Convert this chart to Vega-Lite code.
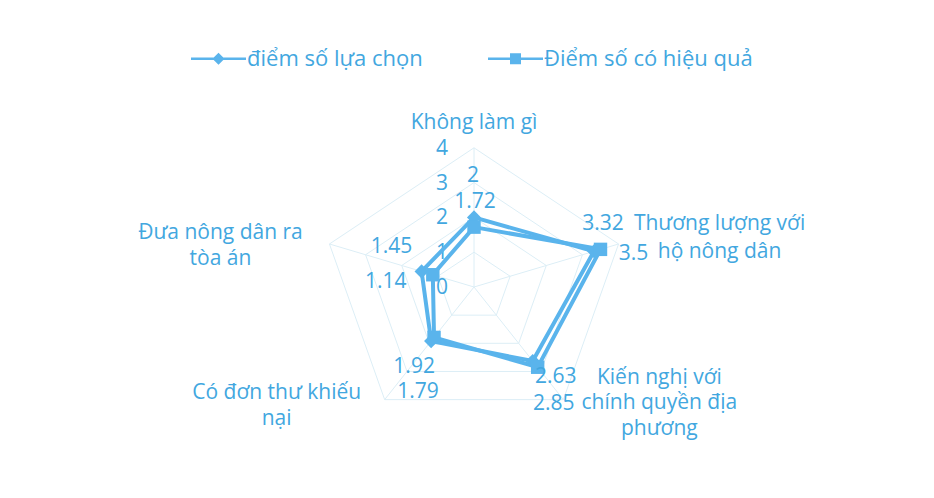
{
  "$schema": "https://vega.github.io/schema/vega-lite/v6.json",
  "width": 934,
  "height": 498,
  "padding": 0,
  "autosize": "none",
  "background": "white",
  "config": {
    "view": {"stroke": null},
    "font": "Open Sans",
    "text": {"font": "Open Sans", "fontSize": 21, "color": "#42A7DF", "baseline": "middle"}
  },
  "datasets": {
    "scores": [
      {"cat": "Không làm gì", "idx": 0, "series": "điểm số lựa chọn", "value": 2},
      {"cat": "Thương lượng với hộ nông dân", "idx": 1, "series": "điểm số lựa chọn", "value": 3.32},
      {"cat": "Kiến nghị với chính quyền địa phương", "idx": 2, "series": "điểm số lựa chọn", "value": 2.63},
      {"cat": "Có đơn thư khiếu nại", "idx": 3, "series": "điểm số lựa chọn", "value": 1.92},
      {"cat": "Đưa nông dân ra tòa án", "idx": 4, "series": "điểm số lựa chọn", "value": 1.45},
      {"cat": "Không làm gì", "idx": 0, "series": "Điểm số có hiệu quả", "value": 1.72},
      {"cat": "Thương lượng với hộ nông dân", "idx": 1, "series": "Điểm số có hiệu quả", "value": 3.5},
      {"cat": "Kiến nghị với chính quyền địa phương", "idx": 2, "series": "Điểm số có hiệu quả", "value": 2.85},
      {"cat": "Có đơn thư khiếu nại", "idx": 3, "series": "Điểm số có hiệu quả", "value": 1.79},
      {"cat": "Đưa nông dân ra tòa án", "idx": 4, "series": "Điểm số có hiệu quả", "value": 1.14}
    ],
    "cats": [
      {"idx": 0, "label": "Không làm gì"},
      {"idx": 1, "label": "Thương lượng với\nhộ nông dân"},
      {"idx": 2, "label": "Kiến nghị với\nchính quyền địa\nphương"},
      {"idx": 3, "label": "Có đơn thư khiếu\nnại"},
      {"idx": 4, "label": "Đưa nông dân ra\ntòa án"}
    ],
    "grid": [
      {"level": 1, "idx": 0}, {"level": 1, "idx": 1}, {"level": 1, "idx": 2}, {"level": 1, "idx": 3}, {"level": 1, "idx": 4},
      {"level": 2, "idx": 0}, {"level": 2, "idx": 1}, {"level": 2, "idx": 2}, {"level": 2, "idx": 3}, {"level": 2, "idx": 4},
      {"level": 3, "idx": 0}, {"level": 3, "idx": 1}, {"level": 3, "idx": 2}, {"level": 3, "idx": 3}, {"level": 3, "idx": 4},
      {"level": 4, "idx": 0}, {"level": 4, "idx": 1}, {"level": 4, "idx": 2}, {"level": 4, "idx": 3}, {"level": 4, "idx": 4}
    ],
    "ticks": [
      {"level": 0, "label": "0"}, {"level": 1, "label": "1"}, {"level": 2, "label": "2"}, {"level": 3, "label": "3"}, {"level": 4, "label": "4"}
    ]
  },
  "layer": [
    {
      "data": {"name": "grid"},
      "transform": [
        {"calculate": "datum.level*sin(datum.idx*2*PI/5)", "as": "px"},
        {"calculate": "datum.level*cos(datum.idx*2*PI/5)", "as": "py"}
      ],
      "mark": {"type": "line", "interpolate": "linear-closed", "stroke": "#DCEEF6", "strokeWidth": 1},
      "encoding": {
        "x": {"field": "px", "type": "quantitative", "scale": {"domain": [-12.474, 12.105], "nice": false, "zero": false}, "axis": null},
        "y": {"field": "py", "type": "quantitative", "scale": {"domain": [-6.063, 8.247], "nice": false, "zero": false}, "axis": null},
        "detail": {"field": "level", "type": "nominal"},
        "order": {"field": "idx", "type": "quantitative"}
      }
    },
    {
      "data": {"name": "cats"},
      "transform": [
        {"calculate": "4*sin(datum.idx*2*PI/5)", "as": "px"},
        {"calculate": "4*cos(datum.idx*2*PI/5)", "as": "py"},
        {"calculate": "0", "as": "ox"},
        {"calculate": "0", "as": "oy"}
      ],
      "mark": {"type": "rule", "stroke": "#DCEEF6", "strokeWidth": 1},
      "encoding": {
        "x": {"field": "ox", "type": "quantitative", "scale": {"domain": [-12.474, 12.105], "nice": false, "zero": false}, "axis": null},
        "y": {"field": "oy", "type": "quantitative", "scale": {"domain": [-6.063, 8.247], "nice": false, "zero": false}, "axis": null},
        "x2": {"field": "px"},
        "y2": {"field": "py"}
      }
    },
    {
      "data": {"name": "ticks"},
      "transform": [
        {"calculate": "0", "as": "ox"}
      ],
      "mark": {"type": "text", "align": "right", "dx": -26, "dy": 1},
      "encoding": {
        "x": {"field": "ox", "type": "quantitative", "scale": {"domain": [-12.474, 12.105], "nice": false, "zero": false}, "axis": null},
        "y": {"field": "level", "type": "quantitative", "scale": {"domain": [-6.063, 8.247], "nice": false, "zero": false}, "axis": null},
        "text": {"field": "label", "type": "nominal"}
      }
    },
    {
      "data": {"name": "scores"},
      "transform": [
        {"calculate": "datum.value*sin(datum.idx*2*PI/5)", "as": "px"},
        {"calculate": "datum.value*cos(datum.idx*2*PI/5)", "as": "py"}
      ],
      "mark": {"type": "line", "interpolate": "linear-closed", "stroke": "#5AB4EC", "strokeWidth": 4},
      "encoding": {
        "x": {"field": "px", "type": "quantitative", "scale": {"domain": [-12.474, 12.105], "nice": false, "zero": false}, "axis": null},
        "y": {"field": "py", "type": "quantitative", "scale": {"domain": [-6.063, 8.247], "nice": false, "zero": false}, "axis": null},
        "detail": {"field": "series", "type": "nominal"},
        "order": {"field": "idx", "type": "quantitative"}
      }
    },
    {
      "data": {"name": "scores"},
      "transform": [
        {"filter": "datum.series == 'điểm số lựa chọn'"},
        {"calculate": "datum.value*sin(datum.idx*2*PI/5)", "as": "px"},
        {"calculate": "datum.value*cos(datum.idx*2*PI/5)", "as": "py"}
      ],
      "mark": {"type": "point", "shape": "diamond", "filled": true, "color": "#5AB4EC", "opacity": 1, "size": 200},
      "encoding": {
        "x": {"field": "px", "type": "quantitative", "scale": {"domain": [-12.474, 12.105], "nice": false, "zero": false}, "axis": null},
        "y": {"field": "py", "type": "quantitative", "scale": {"domain": [-6.063, 8.247], "nice": false, "zero": false}, "axis": null}
      }
    },
    {
      "data": {"name": "scores"},
      "transform": [
        {"filter": "datum.series == 'Điểm số có hiệu quả'"},
        {"calculate": "datum.value*sin(datum.idx*2*PI/5)", "as": "px"},
        {"calculate": "datum.value*cos(datum.idx*2*PI/5)", "as": "py"}
      ],
      "mark": {"type": "point", "shape": "square", "filled": true, "color": "#5AB4EC", "opacity": 1, "size": 180},
      "encoding": {
        "x": {"field": "px", "type": "quantitative", "scale": {"domain": [-12.474, 12.105], "nice": false, "zero": false}, "axis": null},
        "y": {"field": "py", "type": "quantitative", "scale": {"domain": [-6.063, 8.247], "nice": false, "zero": false}, "axis": null}
      }
    },
    {
      "data": {"name": "cats"},
      "transform": [
        {"filter": "datum.idx == 0"},
        {"calculate": "4*sin(datum.idx*2*PI/5)", "as": "px"},
        {"calculate": "4*cos(datum.idx*2*PI/5)", "as": "py"}
      ],
      "mark": {"type": "text", "align": "center", "dy": -25, "lineBreak": "\n"},
      "encoding": {
        "x": {"field": "px", "type": "quantitative", "scale": {"domain": [-12.474, 12.105], "nice": false, "zero": false}, "axis": null},
        "y": {"field": "py", "type": "quantitative", "scale": {"domain": [-6.063, 8.247], "nice": false, "zero": false}, "axis": null},
        "text": {"field": "label", "type": "nominal"}
      }
    },
    {
      "data": {"name": "cats"},
      "transform": [
        {"filter": "datum.idx == 1"},
        {"calculate": "4*sin(datum.idx*2*PI/5)", "as": "px"},
        {"calculate": "4*cos(datum.idx*2*PI/5)", "as": "py"}
      ],
      "mark": {"type": "text", "align": "center", "dx": 101, "dy": -20, "lineBreak": "\n", "lineHeight": 28},
      "encoding": {
        "x": {"field": "px", "type": "quantitative", "scale": {"domain": [-12.474, 12.105], "nice": false, "zero": false}, "axis": null},
        "y": {"field": "py", "type": "quantitative", "scale": {"domain": [-6.063, 8.247], "nice": false, "zero": false}, "axis": null},
        "text": {"field": "label", "type": "nominal"}
      }
    },
    {
      "data": {"name": "cats"},
      "transform": [
        {"filter": "datum.idx == 2"},
        {"calculate": "4*sin(datum.idx*2*PI/5)", "as": "px"},
        {"calculate": "4*cos(datum.idx*2*PI/5)", "as": "py"}
      ],
      "mark": {"type": "text", "align": "center", "dx": 96, "dy": -22, "lineBreak": "\n", "lineHeight": 25.5},
      "encoding": {
        "x": {"field": "px", "type": "quantitative", "scale": {"domain": [-12.474, 12.105], "nice": false, "zero": false}, "axis": null},
        "y": {"field": "py", "type": "quantitative", "scale": {"domain": [-6.063, 8.247], "nice": false, "zero": false}, "axis": null},
        "text": {"field": "label", "type": "nominal"}
      }
    },
    {
      "data": {"name": "cats"},
      "transform": [
        {"filter": "datum.idx == 3"},
        {"calculate": "4*sin(datum.idx*2*PI/5)", "as": "px"},
        {"calculate": "4*cos(datum.idx*2*PI/5)", "as": "py"}
      ],
      "mark": {"type": "text", "align": "center", "dx": -108, "dy": -7, "lineBreak": "\n", "lineHeight": 26},
      "encoding": {
        "x": {"field": "px", "type": "quantitative", "scale": {"domain": [-12.474, 12.105], "nice": false, "zero": false}, "axis": null},
        "y": {"field": "py", "type": "quantitative", "scale": {"domain": [-6.063, 8.247], "nice": false, "zero": false}, "axis": null},
        "text": {"field": "label", "type": "nominal"}
      }
    },
    {
      "data": {"name": "cats"},
      "transform": [
        {"filter": "datum.idx == 4"},
        {"calculate": "4*sin(datum.idx*2*PI/5)", "as": "px"},
        {"calculate": "4*cos(datum.idx*2*PI/5)", "as": "py"}
      ],
      "mark": {"type": "text", "align": "center", "dx": -109, "dy": -11, "lineBreak": "\n", "lineHeight": 26},
      "encoding": {
        "x": {"field": "px", "type": "quantitative", "scale": {"domain": [-12.474, 12.105], "nice": false, "zero": false}, "axis": null},
        "y": {"field": "py", "type": "quantitative", "scale": {"domain": [-6.063, 8.247], "nice": false, "zero": false}, "axis": null},
        "text": {"field": "label", "type": "nominal"}
      }
    },
    {
      "data": {"name": "scores"},
      "transform": [
        {"filter": "datum.series == 'điểm số lựa chọn' && datum.idx == 0"},
        {"calculate": "datum.value*sin(datum.idx*2*PI/5)", "as": "px"},
        {"calculate": "datum.value*cos(datum.idx*2*PI/5)", "as": "py"}
      ],
      "mark": {"type": "text", "align": "center", "dx": -1, "dy": -41},
      "encoding": {
        "x": {"field": "px", "type": "quantitative", "scale": {"domain": [-12.474, 12.105], "nice": false, "zero": false}, "axis": null},
        "y": {"field": "py", "type": "quantitative", "scale": {"domain": [-6.063, 8.247], "nice": false, "zero": false}, "axis": null},
        "text": {"field": "value", "type": "quantitative", "format": ".3~g"}
      }
    },
    {
      "data": {"name": "scores"},
      "transform": [
        {"filter": "datum.series == 'Điểm số có hiệu quả' && datum.idx == 0"},
        {"calculate": "datum.value*sin(datum.idx*2*PI/5)", "as": "px"},
        {"calculate": "datum.value*cos(datum.idx*2*PI/5)", "as": "py"}
      ],
      "mark": {"type": "text", "align": "center", "dx": 1, "dy": -25},
      "encoding": {
        "x": {"field": "px", "type": "quantitative", "scale": {"domain": [-12.474, 12.105], "nice": false, "zero": false}, "axis": null},
        "y": {"field": "py", "type": "quantitative", "scale": {"domain": [-6.063, 8.247], "nice": false, "zero": false}, "axis": null},
        "text": {"field": "value", "type": "quantitative", "format": ".3~g"}
      }
    },
    {
      "data": {"name": "scores"},
      "transform": [
        {"filter": "datum.series == 'điểm số lựa chọn' && datum.idx == 1"},
        {"calculate": "datum.value*sin(datum.idx*2*PI/5)", "as": "px"},
        {"calculate": "datum.value*cos(datum.idx*2*PI/5)", "as": "py"}
      ],
      "mark": {"type": "text", "align": "center", "dx": 9, "dy": -27},
      "encoding": {
        "x": {"field": "px", "type": "quantitative", "scale": {"domain": [-12.474, 12.105], "nice": false, "zero": false}, "axis": null},
        "y": {"field": "py", "type": "quantitative", "scale": {"domain": [-6.063, 8.247], "nice": false, "zero": false}, "axis": null},
        "text": {"field": "value", "type": "quantitative", "format": ".3~g"}
      }
    },
    {
      "data": {"name": "scores"},
      "transform": [
        {"filter": "datum.series == 'Điểm số có hiệu quả' && datum.idx == 1"},
        {"calculate": "datum.value*sin(datum.idx*2*PI/5)", "as": "px"},
        {"calculate": "datum.value*cos(datum.idx*2*PI/5)", "as": "py"}
      ],
      "mark": {"type": "text", "align": "center", "dx": 33, "dy": 5},
      "encoding": {
        "x": {"field": "px", "type": "quantitative", "scale": {"domain": [-12.474, 12.105], "nice": false, "zero": false}, "axis": null},
        "y": {"field": "py", "type": "quantitative", "scale": {"domain": [-6.063, 8.247], "nice": false, "zero": false}, "axis": null},
        "text": {"field": "value", "type": "quantitative", "format": ".3~g"}
      }
    },
    {
      "data": {"name": "scores"},
      "transform": [
        {"filter": "datum.series == 'điểm số lựa chọn' && datum.idx == 2"},
        {"calculate": "datum.value*sin(datum.idx*2*PI/5)", "as": "px"},
        {"calculate": "datum.value*cos(datum.idx*2*PI/5)", "as": "py"}
      ],
      "mark": {"type": "text", "align": "center", "dx": 23, "dy": 16},
      "encoding": {
        "x": {"field": "px", "type": "quantitative", "scale": {"domain": [-12.474, 12.105], "nice": false, "zero": false}, "axis": null},
        "y": {"field": "py", "type": "quantitative", "scale": {"domain": [-6.063, 8.247], "nice": false, "zero": false}, "axis": null},
        "text": {"field": "value", "type": "quantitative", "format": ".3~g"}
      }
    },
    {
      "data": {"name": "scores"},
      "transform": [
        {"filter": "datum.series == 'Điểm số có hiệu quả' && datum.idx == 2"},
        {"calculate": "datum.value*sin(datum.idx*2*PI/5)", "as": "px"},
        {"calculate": "datum.value*cos(datum.idx*2*PI/5)", "as": "py"}
      ],
      "mark": {"type": "text", "align": "center", "dx": 16, "dy": 37},
      "encoding": {
        "x": {"field": "px", "type": "quantitative", "scale": {"domain": [-12.474, 12.105], "nice": false, "zero": false}, "axis": null},
        "y": {"field": "py", "type": "quantitative", "scale": {"domain": [-6.063, 8.247], "nice": false, "zero": false}, "axis": null},
        "text": {"field": "value", "type": "quantitative", "format": ".3~g"}
      }
    },
    {
      "data": {"name": "scores"},
      "transform": [
        {"filter": "datum.series == 'điểm số lựa chọn' && datum.idx == 3"},
        {"calculate": "datum.value*sin(datum.idx*2*PI/5)", "as": "px"},
        {"calculate": "datum.value*cos(datum.idx*2*PI/5)", "as": "py"}
      ],
      "mark": {"type": "text", "align": "center", "dx": -17, "dy": 26},
      "encoding": {
        "x": {"field": "px", "type": "quantitative", "scale": {"domain": [-12.474, 12.105], "nice": false, "zero": false}, "axis": null},
        "y": {"field": "py", "type": "quantitative", "scale": {"domain": [-6.063, 8.247], "nice": false, "zero": false}, "axis": null},
        "text": {"field": "value", "type": "quantitative", "format": ".3~g"}
      }
    },
    {
      "data": {"name": "scores"},
      "transform": [
        {"filter": "datum.series == 'Điểm số có hiệu quả' && datum.idx == 3"},
        {"calculate": "datum.value*sin(datum.idx*2*PI/5)", "as": "px"},
        {"calculate": "datum.value*cos(datum.idx*2*PI/5)", "as": "py"}
      ],
      "mark": {"type": "text", "align": "center", "dx": -16, "dy": 55},
      "encoding": {
        "x": {"field": "px", "type": "quantitative", "scale": {"domain": [-12.474, 12.105], "nice": false, "zero": false}, "axis": null},
        "y": {"field": "py", "type": "quantitative", "scale": {"domain": [-6.063, 8.247], "nice": false, "zero": false}, "axis": null},
        "text": {"field": "value", "type": "quantitative", "format": ".3~g"}
      }
    },
    {
      "data": {"name": "scores"},
      "transform": [
        {"filter": "datum.series == 'điểm số lựa chọn' && datum.idx == 4"},
        {"calculate": "datum.value*sin(datum.idx*2*PI/5)", "as": "px"},
        {"calculate": "datum.value*cos(datum.idx*2*PI/5)", "as": "py"}
      ],
      "mark": {"type": "text", "align": "center", "dx": -30, "dy": -24},
      "encoding": {
        "x": {"field": "px", "type": "quantitative", "scale": {"domain": [-12.474, 12.105], "nice": false, "zero": false}, "axis": null},
        "y": {"field": "py", "type": "quantitative", "scale": {"domain": [-6.063, 8.247], "nice": false, "zero": false}, "axis": null},
        "text": {"field": "value", "type": "quantitative", "format": ".3~g"}
      }
    },
    {
      "data": {"name": "scores"},
      "transform": [
        {"filter": "datum.series == 'Điểm số có hiệu quả' && datum.idx == 4"},
        {"calculate": "datum.value*sin(datum.idx*2*PI/5)", "as": "px"},
        {"calculate": "datum.value*cos(datum.idx*2*PI/5)", "as": "py"}
      ],
      "mark": {"type": "text", "align": "center", "dx": -47, "dy": 7},
      "encoding": {
        "x": {"field": "px", "type": "quantitative", "scale": {"domain": [-12.474, 12.105], "nice": false, "zero": false}, "axis": null},
        "y": {"field": "py", "type": "quantitative", "scale": {"domain": [-6.063, 8.247], "nice": false, "zero": false}, "axis": null},
        "text": {"field": "value", "type": "quantitative", "format": ".3~g"}
      }
    },
    {
      "data": {"name": "scores"},
      "transform": [
        {"filter": "datum.value < 0"},
        {"calculate": "datum.value*sin(datum.idx*2*PI/5)", "as": "px"},
        {"calculate": "datum.value*cos(datum.idx*2*PI/5)", "as": "py"}
      ],
      "mark": {"type": "point", "filled": true, "color": "#5AB4EC", "size": 3025},
      "encoding": {
        "x": {"field": "px", "type": "quantitative", "scale": {"domain": [-12.474, 12.105], "nice": false, "zero": false}, "axis": null},
        "y": {"field": "py", "type": "quantitative", "scale": {"domain": [-6.063, 8.247], "nice": false, "zero": false}, "axis": null},
        "shape": {
          "field": "series",
          "type": "nominal",
          "scale": {
            "domain": ["điểm số lựa chọn", "Điểm số có hiệu quả"],
            "range": [
              "M-1,-0.045H1V0.045H-1ZM0,-0.22L0.22,0L0,0.22L-0.22,0Z",
              "M-1,-0.045H1V0.045H-1ZM-0.2,-0.2H0.2V0.2H-0.2Z"
            ]
          },
          "legend": {
            "orient": "none",
            "legendX": 190,
            "legendY": 30,
            "direction": "horizontal",
            "title": null,
            "labelFont": "Open Sans",
            "labelFontSize": 22,
            "labelColor": "#42A7DF",
            "labelOffset": 0,
            "labelLimit": 400,
            "columnPadding": 62,
            "symbolSize": 3025,
            "symbolFillColor": "#5AB4EC",
            "symbolOpacity": 1
          }
        }
      }
    }
  ]
}
